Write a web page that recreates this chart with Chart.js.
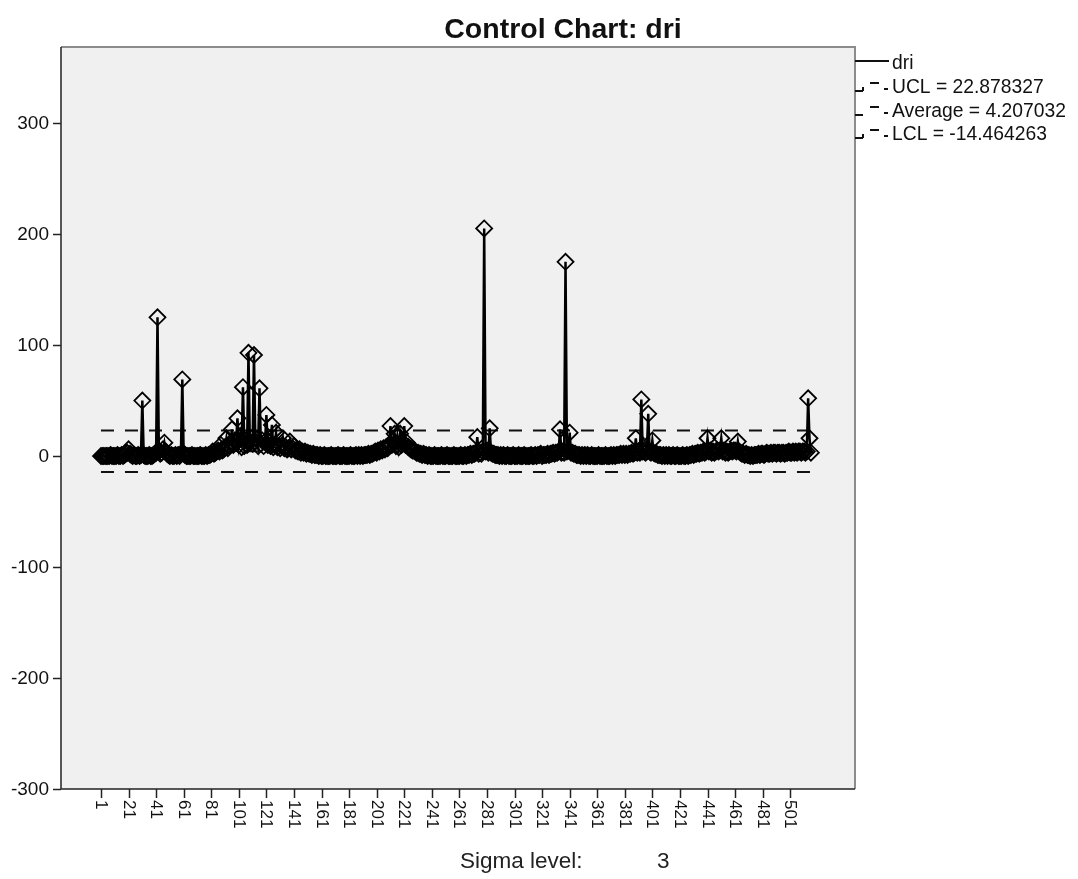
<!DOCTYPE html>
<html>
<head>
<meta charset="utf-8">
<title>Control Chart: dri</title>
<script src="https://cdn.jsdelivr.net/npm/chart.js@4.4.1/dist/chart.umd.min.js"></script>
<style>
  html, body { margin: 0; padding: 0; background: #fff; }
  #chart { display: block; }
</style>
</head>
<body>
<canvas id="chart" width="1078" height="879"></canvas>
<script>
// dri readings, one per sample (1..516)
const driValues = [
  0, 0, 0, 0, 0, 0, 0, 1, 0, 0, 0, 0, 1, 0, 0, 1, 0, 1, 2, 3,
  6, 2, 1, 0, 1, 0, 0, 1, 0, 1, 50, 1, 0, 0, 0, 1, 0, 0, 1, 2,
  3, 125, 4, 2, 3, 6, 12, 4, 2, 1, 0, 1, 0, 0, 1, 0, 1, 0, 2, 69,
  2, 1, 0, 0, 0, 0, 1, 0, 0, 0, 0, 0, 1, 0, 0, 0, 1, 0, 1, 1,
  2, 4, 2, 3, 4, 5, 4, 10, 5, 6, 8, 16, 7, 9, 12, 24, 10, 14, 12, 34,
  10, 18, 8, 62, 9, 14, 10, 93, 12, 16, 11, 91, 13, 15, 9, 61, 11, 14, 9, 13,
  37, 10, 12, 9, 28, 8, 10, 21, 8, 9, 7, 9, 16, 7, 8, 6, 7, 13, 6, 7,
  9, 5, 5, 4, 6, 3, 4, 3, 4, 2, 3, 2, 2, 1, 2, 1, 1, 1, 0, 1,
  0, 0, 1, 0, 0, 0, 0, 1, 0, 0, 0, 0, 1, 0, 0, 0, 1, 0, 0, 0,
  0, 1, 0, 0, 0, 1, 0, 1, 0, 1, 0, 1, 1, 1, 2, 1, 2, 2, 3, 4,
  3, 5, 4, 6, 5, 7, 6, 8, 7, 10, 27, 10, 14, 20, 9, 18, 8, 20, 10, 12,
  27, 10, 12, 8, 7, 6, 5, 5, 4, 3, 3, 2, 2, 1, 2, 1, 1, 0, 1, 0,
  0, 0, 1, 0, 0, 0, 0, 1, 0, 0, 0, 1, 0, 0, 0, 0, 1, 0, 0, 0,
  0, 1, 0, 0, 1, 0, 1, 1, 2, 1, 2, 2, 3, 17, 2, 3, 2, 4, 205, 4,
  5, 3, 25, 3, 2, 2, 1, 1, 1, 0, 1, 0, 1, 0, 0, 1, 0, 0, 0, 1,
  0, 0, 0, 1, 0, 0, 0, 1, 0, 0, 0, 0, 1, 0, 0, 1, 0, 1, 1, 2,
  0, 1, 1, 1, 2, 1, 2, 2, 3, 2, 3, 3, 4, 24, 3, 4, 3, 175, 4, 5,
  21, 3, 3, 2, 2, 1, 1, 1, 0, 1, 0, 1, 0, 1, 0, 0, 1, 0, 0, 0,
  0, 1, 0, 0, 0, 0, 1, 0, 0, 0, 1, 0, 1, 0, 1, 1, 1, 2, 1, 2,
  1, 2, 1, 2, 2, 3, 2, 3, 16, 3, 4, 3, 51, 4, 5, 3, 4, 38, 4, 3,
  14, 3, 2, 2, 1, 1, 1, 0, 1, 0, 1, 0, 1, 0, 0, 1, 0, 0, 1, 0,
  0, 0, 1, 0, 0, 1, 0, 1, 1, 2, 1, 2, 2, 3, 2, 3, 3, 4, 3, 4,
  16, 4, 5, 3, 4, 3, 4, 5, 4, 5, 16, 4, 5, 3, 4, 3, 4, 5, 4, 5,
  5, 4, 13, 4, 3, 2, 2, 1, 2, 1, 1, 0, 1, 0, 1, 1, 1, 2, 1, 2,
  2, 1, 2, 3, 2, 2, 3, 2, 3, 3, 2, 3, 3, 2, 3, 3, 2, 3, 3, 4,
  3, 3, 4, 3, 4, 3, 4, 4, 3, 4, 4, 3, 4, 52, 16, 3
];

// control limits (3 sigma)
const ucl = 22.878327;
const average = 4.207032;
const lcl = -14.464263;
const sigmaLevel = 3;

const xTicks = [1, 21, 41, 61, 81, 101, 121, 141, 161, 181, 201, 221, 241, 261,
  281, 301, 321, 341, 361, 381, 401, 421, 441, 461, 481, 501];
const yTicks = [-300, -200, -100, 0, 100, 200, 300];

const legendLabels = ['dri', 'UCL = 22.878327', 'Average = 4.207032', 'LCL = -14.464263'];

const FONT = '"Liberation Sans", Arial, sans-serif';
const INK = '#111';

const points = driValues.map((v, i) => ({ x: i + 1, y: v }));
const first = 1;
const last = driValues.length;
const limitLine = (v) => [{ x: first, y: v }, { x: last, y: v }];
const dashed = {
  borderColor: '#111',
  borderWidth: 2,
  borderDash: [13, 11],
  pointRadius: 0,
  fill: false,
};

const spssFrame = {
  id: 'spssFrame',
  beforeDatasetsDraw(chart) {
    const { ctx, chartArea: a } = chart;
    ctx.save();
    ctx.fillStyle = '#f0f0f0';
    ctx.fillRect(a.left, a.top, a.right - a.left, a.bottom - a.top);
    ctx.restore();
  },
  afterDraw(chart) {
    const { ctx, chartArea: a } = chart;
    const xs = chart.scales.x, ys = chart.scales.y;
    ctx.save();

    // plot border: grey top/right, dark left/bottom
    ctx.lineWidth = 2;
    ctx.strokeStyle = '#8c8c8c';
    ctx.beginPath();
    ctx.moveTo(a.left, a.top); ctx.lineTo(a.right, a.top); ctx.lineTo(a.right, a.bottom);
    ctx.stroke();
    ctx.strokeStyle = '#222';
    ctx.lineWidth = 1.5;
    ctx.beginPath();
    ctx.moveTo(a.left, a.top); ctx.lineTo(a.left, a.bottom); ctx.lineTo(a.right, a.bottom);
    ctx.stroke();

    // y axis ticks
    ctx.fillStyle = INK;
    ctx.strokeStyle = '#222';
    ctx.lineWidth = 1.5;
    ctx.font = '19px ' + FONT;
    ctx.textAlign = 'right';
    ctx.textBaseline = 'middle';
    yTicks.forEach((t) => {
      const y = Math.round(ys.getPixelForValue(t)) + 0.5;
      ctx.beginPath(); ctx.moveTo(a.left - 8, y); ctx.lineTo(a.left, y); ctx.stroke();
      ctx.fillText(String(t), a.left - 12, y);
    });

    // x axis ticks, labels turned clockwise
    ctx.font = '17px ' + FONT;
    ctx.textAlign = 'left';
    ctx.textBaseline = 'middle';
    xTicks.forEach((t) => {
      const x = Math.round(xs.getPixelForValue(t)) + 0.5;
      ctx.beginPath(); ctx.moveTo(x, a.bottom); ctx.lineTo(x, a.bottom + 9); ctx.stroke();
      ctx.save();
      ctx.translate(x - 1, a.bottom + 11);
      ctx.rotate(Math.PI / 2);
      ctx.fillText(String(t), 0, 0);
      ctx.restore();
    });

    // title
    ctx.font = 'bold 28.5px ' + FONT;
    ctx.textAlign = 'center';
    ctx.textBaseline = 'alphabetic';
    ctx.fillText('Control Chart: dri', 563, 38);

    // sigma footer
    ctx.font = '22.5px ' + FONT;
    ctx.textAlign = 'left';
    ctx.fillStyle = '#222';
    ctx.fillText('Sigma level:', 460, 868);
    ctx.fillText(String(sigmaLevel), 657, 868);

    // legend
    ctx.fillStyle = INK;
    ctx.font = '19.3px ' + FONT;
    ctx.textBaseline = 'middle';
    const rows = [64, 88, 112, 135];
    legendLabels.forEach((lab, i) => ctx.fillText(lab, 892, rows[i]));
    ctx.strokeStyle = '#111';
    ctx.lineWidth = 2;
    ctx.beginPath(); ctx.moveTo(855, 61); ctx.lineTo(889, 61); ctx.stroke();
    const seg = (x1, x2, y) => { ctx.beginPath(); ctx.moveTo(x1, y); ctx.lineTo(x2, y); ctx.stroke(); };
    [[88, 1], [112, 0], [135, 1]].forEach(([y, tick]) => {
      seg(855, 863, y + 3);
      if (tick) { ctx.beginPath(); ctx.moveTo(863, y + 3); ctx.lineTo(863, y - 1); ctx.stroke(); }
      seg(870, 879, y - 5);
      seg(884, 888, y + 1);
    });

    ctx.restore();
  },
};

new Chart(document.getElementById('chart'), {
  type: 'line',
  data: {
    datasets: [
      {
        label: 'dri',
        data: points,
        borderColor: '#000',
        borderWidth: 2.5,
        tension: 0,
        pointStyle: 'rectRot',
        pointRadius: 8,
        pointBorderColor: '#000',
        pointBorderWidth: 1.8,
        pointBackgroundColor: 'rgba(0,0,0,0)',
        fill: false,
      },
      { label: 'UCL', data: limitLine(ucl), ...dashed },
      { label: 'Average', data: limitLine(average), ...dashed },
      { label: 'LCL', data: limitLine(lcl), ...dashed },
    ],
  },
  options: {
    responsive: false,
    animation: false,
    layout: { padding: { left: 61, top: 47, right: 223, bottom: 90 } },
    scales: {
      x: { type: 'linear', min: -28, max: 548, display: false },
      y: { type: 'linear', min: -300, max: 368.5, display: false },
    },
    plugins: { legend: { display: false }, tooltip: { enabled: false } },
  },
  plugins: [spssFrame],
});
</script>
</body>
</html>
